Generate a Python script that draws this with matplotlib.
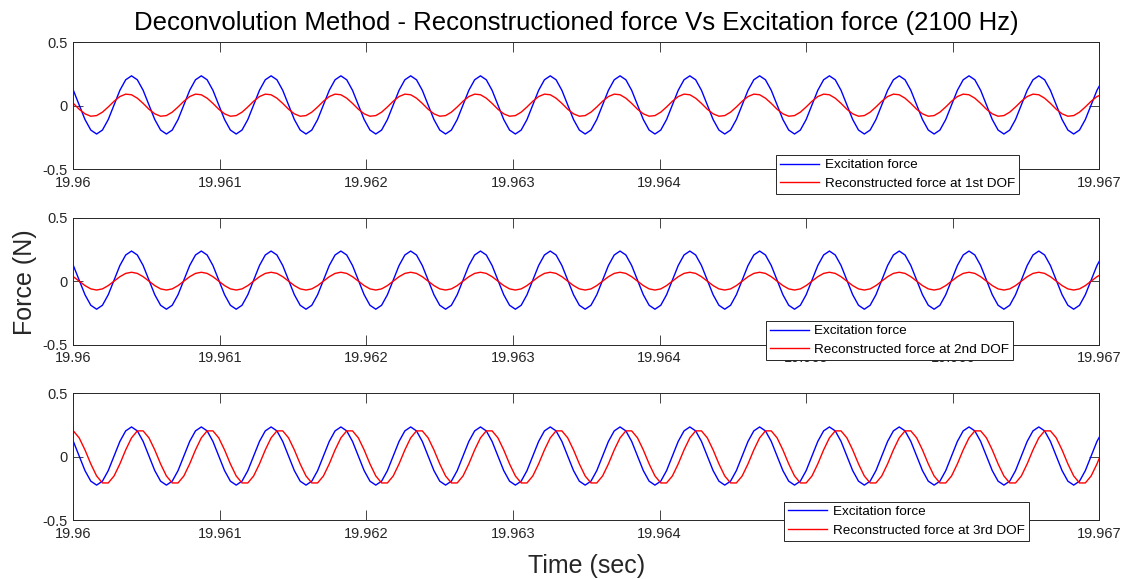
import numpy as np
import matplotlib
matplotlib.use("Agg")
import matplotlib.pyplot as plt
from matplotlib.ticker import FixedLocator, FixedFormatter

# time axis: samples start at 19.96 s, sample rate read from the kinks
t_start = 19.96
fs = 25200.0

x_ticks = [19.96, 19.961, 19.962, 19.963, 19.964, 19.965, 19.966, 19.967]
x_tick_labels = ["19.96", "19.961", "19.962", "19.963", "19.964", "19.965", "19.966", "19.967"]
y_ticks = [-0.5, 0.0, 0.5]
y_tick_labels = ["-0.5", "0", "0.5"]

# excitation force (same in all three panels)
excitation = [
    0.122, 0.007, -0.108, -0.191, -0.222, -0.191, -0.108, 0.007, 0.122, 0.205, 0.236, 0.205,
    0.122, 0.007, -0.108, -0.191, -0.222, -0.191, -0.108, 0.007, 0.122, 0.205, 0.236, 0.205,
    0.122, 0.007, -0.108, -0.191, -0.222, -0.191, -0.108, 0.007, 0.122, 0.205, 0.236, 0.205,
    0.122, 0.007, -0.108, -0.191, -0.222, -0.191, -0.108, 0.007, 0.122, 0.205, 0.236, 0.205,
    0.122, 0.007, -0.108, -0.191, -0.222, -0.191, -0.108, 0.007, 0.122, 0.205, 0.236, 0.205,
    0.122, 0.007, -0.108, -0.191, -0.222, -0.191, -0.108, 0.007, 0.122, 0.205, 0.236, 0.205,
    0.122, 0.007, -0.108, -0.191, -0.222, -0.191, -0.108, 0.007, 0.122, 0.205, 0.236, 0.205,
    0.122, 0.007, -0.108, -0.191, -0.222, -0.191, -0.108, 0.007, 0.122, 0.205, 0.236, 0.205,
    0.122, 0.007, -0.108, -0.191, -0.222, -0.191, -0.108, 0.007, 0.122, 0.205, 0.236, 0.205,
    0.122, 0.007, -0.108, -0.191, -0.222, -0.191, -0.108, 0.007, 0.122, 0.205, 0.236, 0.205,
    0.122, 0.007, -0.108, -0.191, -0.222, -0.191, -0.108, 0.007, 0.122, 0.205, 0.236, 0.205,
    0.122, 0.007, -0.108, -0.191, -0.222, -0.191, -0.108, 0.007, 0.122, 0.205, 0.236, 0.205,
    0.122, 0.007, -0.108, -0.191, -0.222, -0.191, -0.108, 0.007, 0.122, 0.205, 0.236, 0.205,
    0.122, 0.007, -0.108, -0.191, -0.222, -0.191, -0.108, 0.007, 0.122, 0.205, 0.236, 0.205,
    0.122, 0.007, -0.108, -0.191, -0.222, -0.191, -0.108, 0.007, 0.122, 0.205,
]

# reconstructed force at 1st DOF
recon_1st = [
    0.019, -0.027, -0.063, -0.082, -0.077, -0.050, -0.009, 0.036, 0.073, 0.092, 0.087, 0.060,
    0.019, -0.027, -0.063, -0.082, -0.077, -0.050, -0.009, 0.036, 0.073, 0.092, 0.087, 0.060,
    0.019, -0.027, -0.063, -0.082, -0.077, -0.050, -0.009, 0.036, 0.073, 0.092, 0.087, 0.060,
    0.019, -0.027, -0.063, -0.082, -0.077, -0.050, -0.009, 0.036, 0.073, 0.092, 0.087, 0.060,
    0.019, -0.027, -0.063, -0.082, -0.077, -0.050, -0.009, 0.036, 0.073, 0.092, 0.087, 0.060,
    0.019, -0.027, -0.063, -0.082, -0.077, -0.050, -0.009, 0.036, 0.073, 0.092, 0.087, 0.060,
    0.019, -0.027, -0.063, -0.082, -0.077, -0.050, -0.009, 0.036, 0.073, 0.092, 0.087, 0.060,
    0.019, -0.027, -0.063, -0.082, -0.077, -0.050, -0.009, 0.036, 0.073, 0.092, 0.087, 0.060,
    0.019, -0.027, -0.063, -0.082, -0.077, -0.050, -0.009, 0.036, 0.073, 0.092, 0.087, 0.060,
    0.019, -0.027, -0.063, -0.082, -0.077, -0.050, -0.009, 0.036, 0.073, 0.092, 0.087, 0.060,
    0.019, -0.027, -0.063, -0.082, -0.077, -0.050, -0.009, 0.036, 0.073, 0.092, 0.087, 0.060,
    0.019, -0.027, -0.063, -0.082, -0.077, -0.050, -0.009, 0.036, 0.073, 0.092, 0.087, 0.060,
    0.019, -0.027, -0.063, -0.082, -0.077, -0.050, -0.009, 0.036, 0.073, 0.092, 0.087, 0.060,
    0.019, -0.027, -0.063, -0.082, -0.077, -0.050, -0.009, 0.036, 0.073, 0.092, 0.087, 0.060,
    0.019, -0.027, -0.063, -0.082, -0.077, -0.050, -0.009, 0.036, 0.073, 0.092,
]

# reconstructed force at 2nd DOF
recon_2nd = [
    0.034, -0.001, -0.036, -0.062, -0.071, -0.062, -0.036, -0.001, 0.034, 0.060, 0.069, 0.060,
    0.034, -0.001, -0.036, -0.062, -0.071, -0.062, -0.036, -0.001, 0.034, 0.060, 0.069, 0.060,
    0.034, -0.001, -0.036, -0.062, -0.071, -0.062, -0.036, -0.001, 0.034, 0.060, 0.069, 0.060,
    0.034, -0.001, -0.036, -0.062, -0.071, -0.062, -0.036, -0.001, 0.034, 0.060, 0.069, 0.060,
    0.034, -0.001, -0.036, -0.062, -0.071, -0.062, -0.036, -0.001, 0.034, 0.060, 0.069, 0.060,
    0.034, -0.001, -0.036, -0.062, -0.071, -0.062, -0.036, -0.001, 0.034, 0.060, 0.069, 0.060,
    0.034, -0.001, -0.036, -0.062, -0.071, -0.062, -0.036, -0.001, 0.034, 0.060, 0.069, 0.060,
    0.034, -0.001, -0.036, -0.062, -0.071, -0.062, -0.036, -0.001, 0.034, 0.060, 0.069, 0.060,
    0.034, -0.001, -0.036, -0.062, -0.071, -0.062, -0.036, -0.001, 0.034, 0.060, 0.069, 0.060,
    0.034, -0.001, -0.036, -0.062, -0.071, -0.062, -0.036, -0.001, 0.034, 0.060, 0.069, 0.060,
    0.034, -0.001, -0.036, -0.062, -0.071, -0.062, -0.036, -0.001, 0.034, 0.060, 0.069, 0.060,
    0.034, -0.001, -0.036, -0.062, -0.071, -0.062, -0.036, -0.001, 0.034, 0.060, 0.069, 0.060,
    0.034, -0.001, -0.036, -0.062, -0.071, -0.062, -0.036, -0.001, 0.034, 0.060, 0.069, 0.060,
    0.034, -0.001, -0.036, -0.062, -0.071, -0.062, -0.036, -0.001, 0.034, 0.060, 0.069, 0.060,
    0.034, -0.001, -0.036, -0.062, -0.071, -0.062, -0.036, -0.001, 0.034, 0.060,
]

# reconstructed force at 3rd DOF
recon_3rd = [
    0.205, 0.150, 0.055, -0.055, -0.150, -0.205, -0.205, -0.150, -0.055, 0.055, 0.150, 0.205,
    0.205, 0.150, 0.055, -0.055, -0.150, -0.205, -0.205, -0.150, -0.055, 0.055, 0.150, 0.205,
    0.205, 0.150, 0.055, -0.055, -0.150, -0.205, -0.205, -0.150, -0.055, 0.055, 0.150, 0.205,
    0.205, 0.150, 0.055, -0.055, -0.150, -0.205, -0.205, -0.150, -0.055, 0.055, 0.150, 0.205,
    0.205, 0.150, 0.055, -0.055, -0.150, -0.205, -0.205, -0.150, -0.055, 0.055, 0.150, 0.205,
    0.205, 0.150, 0.055, -0.055, -0.150, -0.205, -0.205, -0.150, -0.055, 0.055, 0.150, 0.205,
    0.205, 0.150, 0.055, -0.055, -0.150, -0.205, -0.205, -0.150, -0.055, 0.055, 0.150, 0.205,
    0.205, 0.150, 0.055, -0.055, -0.150, -0.205, -0.205, -0.150, -0.055, 0.055, 0.150, 0.205,
    0.205, 0.150, 0.055, -0.055, -0.150, -0.205, -0.205, -0.150, -0.055, 0.055, 0.150, 0.205,
    0.205, 0.150, 0.055, -0.055, -0.150, -0.205, -0.205, -0.150, -0.055, 0.055, 0.150, 0.205,
    0.205, 0.150, 0.055, -0.055, -0.150, -0.205, -0.205, -0.150, -0.055, 0.055, 0.150, 0.205,
    0.205, 0.150, 0.055, -0.055, -0.150, -0.205, -0.205, -0.150, -0.055, 0.055, 0.150, 0.205,
    0.205, 0.150, 0.055, -0.055, -0.150, -0.205, -0.205, -0.150, -0.055, 0.055, 0.150, 0.205,
    0.205, 0.150, 0.055, -0.055, -0.150, -0.205, -0.205, -0.150, -0.055, 0.055, 0.150, 0.205,
    0.205, 0.150, 0.055, -0.055, -0.150, -0.205, -0.205, -0.150, -0.055, 0.055,
]

recon_labels = ["Reconstructed force at 1st DOF",
                "Reconstructed force at 2nd DOF",
                "Reconstructed force at 3rd DOF"]

plt.rcParams["font.family"] = ["Liberation Sans", "DejaVu Sans"]

grey = "#262626"
time = t_start + np.arange(len(excitation)) / fs

fig = plt.figure(figsize=(11.32, 5.79), dpi=100)

# axes boxes (left, bottom, width, height) in figure fraction
boxes = [[0.0648, 0.7076, 0.9063, 0.2193],
         [0.0648, 0.4050, 0.9063, 0.2193],
         [0.0648, 0.1012, 0.9063, 0.2193]]
# upper-left corner of each legend, axes fraction
legend_pos = [(0.685, 0.113), (0.675, 0.187), (0.693, 0.147)]
# the legend fully covers these tick labels in the 1st and 3rd panel
hidden_labels = [{"19.965", "19.966"}, set(), {"19.965", "19.966"}]

for i, recon in enumerate([recon_1st, recon_2nd, recon_3rd]):
    ax = fig.add_axes(boxes[i])
    ax.plot(time, excitation, color="#0000ff", lw=1.0, label="Excitation force")
    ax.plot(time, recon, color="#ff0000", lw=1.0, label=recon_labels[i])
    ax.set_xlim(19.96, 19.967)
    ax.set_ylim(-0.5, 0.5)
    shown = [s if s not in hidden_labels[i] else "" for s in x_tick_labels]
    ax.xaxis.set_major_locator(FixedLocator(x_ticks))
    ax.xaxis.set_major_formatter(FixedFormatter(shown))
    ax.yaxis.set_major_locator(FixedLocator(y_ticks))
    ax.yaxis.set_major_formatter(FixedFormatter(y_tick_labels))
    ax.tick_params(direction="in", length=7.2, width=0.6, top=True, right=True,
                   labelsize=10.5, color=grey, labelcolor=grey)
    ax.tick_params(axis="x", pad=5)
    ax.tick_params(axis="y", pad=4)
    for sp in ax.spines.values():
        sp.set_color(grey)
        sp.set_linewidth(0.7)
    leg = ax.legend(loc="upper left", bbox_to_anchor=legend_pos[i], borderaxespad=0,
                    fontsize=9.7, fancybox=False, framealpha=1, edgecolor=grey,
                    borderpad=0.3, labelspacing=0.45, handlelength=2.9, handletextpad=0.4)
    leg.get_frame().set_linewidth(0.7)
    leg.set_zorder(10)

fig.text(0.5095, 0.961, "Deconvolution Method - Reconstructioned force Vs Excitation force (2100 Hz)",
         ha="center", va="center", fontsize=18.5, color="k")
fig.text(0.518, 0.022, "Time (sec)", ha="center", va="center", fontsize=18, color=grey)
fig.text(0.022, 0.513, "Force (N)", ha="center", va="center", fontsize=18,
         rotation=90, color=grey)

fig.savefig("out.png", dpi=100)
